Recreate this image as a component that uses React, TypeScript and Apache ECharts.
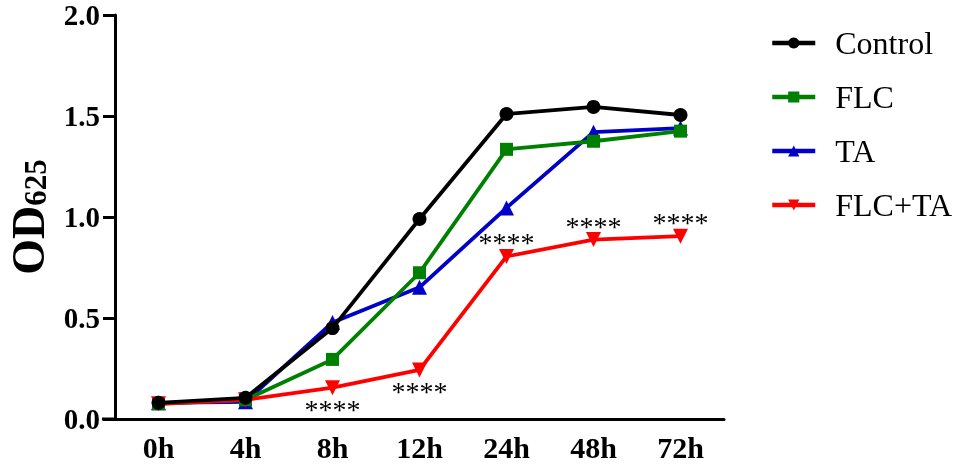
import React, { useEffect, useRef } from "react";
import * as echarts from "echarts";

const categories = ["0h", "4h", "8h", "12h", "24h", "48h", "72h"];
const controlValues = [0.08, 0.105, 0.45, 0.99, 1.51, 1.545, 1.505];
const flcValues = [0.075, 0.095, 0.295, 0.724, 1.335, 1.375, 1.425];
const taValues = [0.08, 0.085, 0.478, 0.652, 1.045, 1.42, 1.44];
const flcTaValues = [0.075, 0.095, 0.155, 0.243, 0.805, 0.888, 0.905];
const flcTaMarks = ["", "", "****", "****", "****", "****", "****"];
const flcTaMarkSide = ["", "", "bottom", "bottom", "top", "top", "top"];
const yTicks = [0, 0.5, 1.0, 1.5, 2.0];

const FONT = "'Liberation Serif', 'Times New Roman', serif";

export default function App() {
  const ref = useRef<HTMLDivElement>(null);
  useEffect(() => {
    if (!ref.current) return;
    const chart = echarts.init(ref.current, null, { renderer: "svg" });
    const mkSeries = (
      name: string,
      data: any[],
      color: string,
      symbol: string,
      size: number,
      z: number,
      rotate = 0
    ) => ({
      name,
      type: "line",
      data,
      symbol,
      symbolSize: size,
      symbolRotate: rotate,
      z,
      lineStyle: { color, width: 3.8 },
      itemStyle: { color },
      emphasis: { disabled: true },
    });
    const redData = flcTaValues.map((v, i) =>
      flcTaMarks[i]
        ? {
            value: v,
            label: {
              show: true,
              formatter: flcTaMarks[i],
              position: flcTaMarkSide[i],
              distance: 0,
              offset: flcTaMarkSide[i] === "top" ? [0, 8] : [0, 0],
              color: "#000",
              fontFamily: FONT,
              fontSize: 28,
            },
          }
        : v
    );
    chart.setOption({
      animation: false,
      grid: {
        left: 115,
        top: 15,
        width: 609,
        bottom: 48,
        containLabel: false,
        outerBoundsMode: "none",
      },
      legend: {
        orient: "vertical",
        left: 765,
        top: 22,
        itemWidth: 43,
        itemHeight: 14,
        itemGap: 22,
        lineStyle: { width: 4.5 },
        textStyle: {
          fontFamily: FONT,
          fontSize: 32,
          color: "#000",
          padding: [0, 0, 0, 15],
        },
        data: ["Control", "FLC", "TA", "FLC+TA"],
      },
      xAxis: {
        type: "category",
        data: categories,
        boundaryGap: true,
        axisLine: { lineStyle: { color: "#000", width: 3 } },
        axisTick: { alignWithLabel: true, length: 12, lineStyle: { color: "#000", width: 3 } },
        axisLabel: {
          color: "#000",
          fontFamily: FONT,
          fontWeight: "bold",
          fontSize: 30,
          margin: 15,
          lineHeight: 26,
        },
      },
      yAxis: {
        type: "value",
        min: 0,
        max: 2,
        interval: 0.5,
        name: "{a|OD}{b|625}",
        nameLocation: "middle",
        nameRotate: 90,
        nameGap: 64,
        nameTextStyle: {
          rich: {
            a: { fontFamily: FONT, fontWeight: "bold", fontSize: 46, lineHeight: 40, color: "#000", verticalAlign: "bottom" },
            b: { fontFamily: FONT, fontWeight: "bold", fontSize: 31, lineHeight: 40, color: "#000", verticalAlign: "bottom" },
          },
        },
        axisLine: { show: true, lineStyle: { color: "#000", width: 3 } },
        axisTick: { show: true, length: 12, lineStyle: { color: "#000", width: 3 } },
        splitLine: { show: false },
        axisLabel: {
          color: "#000",
          fontFamily: FONT,
          fontWeight: "bold",
          fontSize: 29,
          lineHeight: 16,
          margin: 15,
          formatter: (v: number) => (yTicks.includes(v) ? v.toFixed(1) : ""),
        },
      },
      graphic: [
        {
          type: "line",
          shape: { x1: 102, y1: 419, x2: 116, y2: 419 },
          style: { stroke: "#000", lineWidth: 3 },
          z: 10,
        },
      ],
      series: [
        mkSeries("Control", controlValues, "#000000", "circle", 14, 6),
        mkSeries("FLC", flcValues, "#008000", "rect", 13, 4),
        mkSeries("TA", taValues, "#0000c8", "triangle", 15, 3),
        mkSeries("FLC+TA", redData, "#ff0000", "triangle", 15, 5, 180),
      ],
    });
    return () => chart.dispose();
  }, []);
  return (
    <div
      ref={ref}
      style={{ position: "fixed", left: 0, top: 0, width: 955, height: 467 }}
    />
  );
}
